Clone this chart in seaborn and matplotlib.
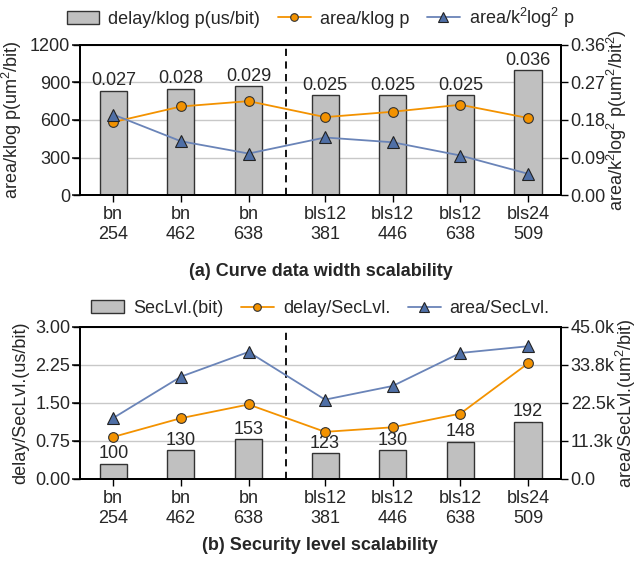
import numpy as np
import matplotlib
matplotlib.use("Agg")
import matplotlib.pyplot as plt
import seaborn as sns
from matplotlib.lines import Line2D
from matplotlib.patches import Patch

# data
cats = ["bn\n254", "bn\n462", "bn\n638", "bls12\n381", "bls12\n446", "bls12\n638", "bls24\n509"]

delay_klogp = [0.027, 0.028, 0.029, 0.025, 0.025, 0.025, 0.036]
area_klogp = [583, 708, 751, 623, 666, 722, 616]
area_k2log2p = [0.193, 0.129, 0.0995, 0.138, 0.1265, 0.0948, 0.051]

seclvl = [100, 130, 153, 123, 130, 148, 192]
delay_seclvl = [0.83, 1.20, 1.47, 0.93, 1.02, 1.29, 2.28]
area_seclvl = [18060, 30290, 37600, 23480, 27530, 37300, 39290]

top_left_ticks = [0, 300, 600, 900, 1200]
top_right_ticks = [0.00, 0.09, 0.18, 0.27, 0.36]
top_right_labels = ["0.00", "0.09", "0.18", "0.27", "0.36"]
bot_left_ticks = [0.00, 0.75, 1.50, 2.25, 3.00]
bot_left_labels = ["0.00", "0.75", "1.50", "2.25", "3.00"]
bot_right_ticks = [0, 11250, 22500, 33750, 45000]
bot_right_labels = ["0.0", "11.3k", "22.5k", "33.8k", "45.0k"]

sns.set_theme(style="white")
plt.rcParams["font.family"] = ["Liberation Sans", "DejaVu Sans"]
plt.rcParams["mathtext.fontset"] = "custom"
plt.rcParams["mathtext.rm"] = "Liberation Sans"
plt.rcParams["mathtext.it"] = "Liberation Sans:italic"
plt.rcParams["mathtext.bf"] = "Liberation Sans:bold"
plt.rcParams["mathtext.default"] = "rm"

GRAY = "#c0c0c0"
EDGE = "#333333"
ORANGE = "#f39200"
BLUE = "#6a84b8"
BLUE_M = "#4f6fa6"
FS = 13


def panel(ax, bars, bar_fmt, bar_lim, left, left_ticks, left_labels, right,
          right_ticks, right_labels, names, ylabels, title, title_y, leg_y):
    pos = np.r_[np.arange(3), np.arange(4) + 3.13]

    sns.barplot(x=pos, y=bars, native_scale=True, orient="x", width=0.4,
                color=GRAY, saturation=1, edgecolor=EDGE, linewidth=1,
                errorbar=None, ax=ax)
    # bars start at the bottom of the (hidden) bar axis
    for p in ax.containers[0].patches:
        top = p.get_y() + p.get_height()
        p.set_y(bar_lim[0])
        p.set_height(top - bar_lim[0])
    ax.bar_label(ax.containers[0], fmt=bar_fmt, fontsize=FS, padding=1)
    ax.set_ylim(bar_lim)
    ax.set_yticks(np.linspace(bar_lim[0], bar_lim[1], 5))
    ax.yaxis.grid(True, color="#c8c8c8", lw=1)
    ax.set_axisbelow(True)
    ax.tick_params(axis="y", left=False, right=False, labelleft=False, labelright=False)
    ax.axvline(2.55, color="black", ls=(0, (4, 3)), lw=1.3)

    axl = ax.twinx()
    axl.yaxis.tick_left()
    axl.yaxis.set_label_position("left")
    sns.lineplot(x=pos, y=left, ax=axl, color=ORANGE, lw=1.3, marker="o",
                 markersize=7, markerfacecolor=ORANGE, markeredgecolor=EDGE,
                 markeredgewidth=0.8)
    axl.set_ylim(left_ticks[0], left_ticks[-1])
    axl.set_yticks(left_ticks)
    axl.set_yticklabels(left_labels, fontsize=FS)
    axl.set_ylabel(ylabels[0], fontsize=FS, labelpad=4)
    axl.tick_params(axis="y", left=True, right=False, direction="out", length=5,
                    width=1, color="black", pad=2)

    axr = ax.twinx()
    sns.lineplot(x=pos, y=right, ax=axr, color=BLUE, lw=1.3, marker="^",
                 markersize=8, markerfacecolor=BLUE_M, markeredgecolor="#222222",
                 markeredgewidth=0.8)
    axr.set_ylim(right_ticks[0], right_ticks[-1])
    axr.set_yticks(right_ticks)
    axr.set_yticklabels(right_labels, fontsize=FS)
    axr.set_ylabel(ylabels[1], fontsize=FS, labelpad=-1)
    axr.tick_params(axis="y", right=True, left=False, direction="out", length=5,
                    width=1, color="black", pad=2)

    ax.set_xlim(-0.492, 6.618)
    ax.set_xticks(pos)
    ax.set_xticklabels(cats, fontsize=FS)
    ax.tick_params(axis="x", bottom=True, direction="out", length=5, width=1,
                   color="black", pad=3)
    ax.set_xlabel("")

    for a in (ax, axl, axr):
        for s in a.spines.values():
            s.set_color("black")
            s.set_linewidth(1.2)

    handles = [
        Patch(facecolor=GRAY, edgecolor=EDGE, label=names[0]),
        Line2D([], [], color=ORANGE, lw=1.3, marker="o", ms=5.5, mfc=ORANGE,
               mec=EDGE, mew=0.8, label=names[1]),
        Line2D([], [], color=BLUE, lw=1.3, marker="^", ms=6.5, mfc=BLUE_M,
               mec="#222222", mew=0.8, label=names[2]),
    ]
    axr.legend(handles=handles, loc="lower center", bbox_to_anchor=(0.5, leg_y),
               ncol=3, frameon=False, fontsize=FS, handlelength=1.8,
               columnspacing=1.0, handletextpad=0.5, borderaxespad=0.2)

    fig.text(0.503, title_y, title, ha="center", va="center", fontsize=FS,
             fontweight="bold")


fig = plt.figure(figsize=(6.37, 5.61), dpi=100)
ax_top = fig.add_axes([0.1256, 0.6524, 0.7551, 0.2674])
ax_bot = fig.add_axes([0.1256, 0.1462, 0.7551, 0.2710])

panel(ax_top, delay_klogp, "%.3f", (-0.018, 0.0468),
      area_klogp, top_left_ticks, [str(t) for t in top_left_ticks],
      area_k2log2p, top_right_ticks, top_right_labels,
      ["delay/klog p(us/bit)", "area/klog p", "area/k$^2$log$^2$ p"],
      ["area/klog p(um$^2$/bit)", "area/k$^2$log$^2$ p(um$^2$/bit$^2$)"],
      "(a) Curve data width scalability", 1 - 272 / 561, 1.03)

panel(ax_bot, seclvl, "%d", (66.5, 399.5),
      delay_seclvl, bot_left_ticks, bot_left_labels,
      area_seclvl, bot_right_ticks, bot_right_labels,
      ["SecLvl.(bit)", "delay/SecLvl.", "area/SecLvl."],
      ["delay/SecLvl.(us/bit)", "area/SecLvl.(um$^2$/bit)"],
      "(b) Security level scalability", 1 - 546 / 561, 0.995)

fig.savefig("out.png", dpi=100)
